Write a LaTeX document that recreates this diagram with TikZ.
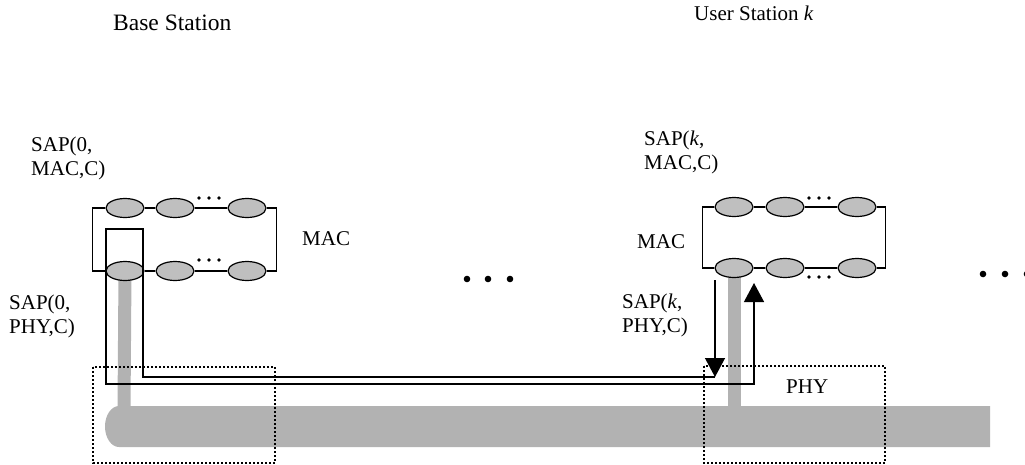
\documentclass[tikz,border=0pt]{standalone}
\usepackage{fontspec}
\setmainfont{Liberation Serif}
\usetikzlibrary{shapes.geometric,arrows.meta}
\pgfdeclarelayer{bg}
\pgfsetlayers{bg,main}
\begin{document}
\begin{tikzpicture}[x=1pt,y=-1pt,
  lw/.style={line width=1.3pt, line join=miter},
  sap/.style={ellipse, draw=black, line width=1.2pt, fill=black!25, minimum width=38pt, minimum height=19pt, inner sep=0pt},
  lbl/.style={font=\fontsize{21}{23.5}\selectfont, inner sep=0pt, anchor=base west, align=left},
  gbar/.style={draw=black!30, line width=13pt},
  dotbox/.style={draw=black, line width=1.5pt, dash pattern=on 2pt off 2pt},
  tip/.style={-{Triangle[width=20pt,length=19pt]}},
  sdot/.style={circle, fill=black, inner sep=0pt, minimum size=3.6pt},
  bdot/.style={circle, fill=black, inner sep=0pt, minimum size=6.6pt}]
\useasboundingbox (0,0) rectangle (1025,464);

% SAP ellipses
\node[sap] (b1) at (125,208) {};
\node[sap] (b2) at (175,208) {};
\node[sap] (b3) at (247,208) {};
\node[sap] (b4) at (125,271) {};
\node[sap] (b5) at (175,271) {};
\node[sap] (b6) at (247,271) {};
\node[sap] (u1) at (734,207) {};
\node[sap] (u2) at (785,207) {};
\node[sap] (u3) at (857,207) {};
\node[sap] (u4) at (734,268) {};
\node[sap] (u5) at (785,268) {};
\node[sap] (u6) at (857,268) {};

% MAC rings
\draw[lw] (b1) -- (b2); \draw[lw] (b2) -- (b3);
\draw[lw] (b4) -- (b5); \draw[lw] (b5) -- (b6);
\draw[lw] (b1.west) -- ++(-13,0) |- (b4.west);
\draw[lw] (b3.east) -- ++(10,0) |- (b6.east);
\draw[lw] (u1) -- (u2); \draw[lw] (u2) -- (u3);
\draw[lw] (u4) -- (u5); \draw[lw] (u5) -- (u6);
\draw[lw] (u1.west) -- ++(-12,0) |- (u4.west);
\draw[lw] (u3.east) -- ++(9,0) |- (u6.east);

% small dots
\foreach \x in {199,209,219} {
  \node[sdot] at (\x,198) {};
  \node[sdot] at (\x,260) {};
}
\foreach \x in {809,819,829} {
  \node[sdot] at (\x,198) {};
  \node[sdot] at (\x,277) {};
}

% loop coordinates
\coordinate (dnTop) at (715,280);
\coordinate (dnEnd) at (715,377);
\coordinate (loopR) at (143,229);
\coordinate (loopL) at (106,384);
\coordinate (upTip) at (754,283);

\draw[lw,tip] (dnTop) -- (dnEnd);
\draw[lw,tip] (dnEnd) -| (loopR) -| (loopL) -| (upTip);

% bus
\coordinate (busB) at (124,406);
\coordinate (busU) at (734,406);
\fill[black!30] (990,406) -- (119,406) arc[start angle=270, end angle=90, x radius=14, y radius=20.5] -- (990,447) -- cycle;
\begin{pgfonlayer}{bg}
\draw[gbar] (b4.center) -- (busB |- 0,410);
\draw[gbar] (u4.center) -- (busU |- 0,410);
\end{pgfonlayer}

% PHY boxes
\draw[dotbox] (93,367) rectangle (275,463);
\draw[dotbox] (704,366) rectangle (885,463);

% labels (anchored at the baseline of the last line)
\node[lbl, font=\fontsize{23.5}{26}\selectfont] (tBS) at (113,30) {Base Station};
\node[lbl] (tUS) at (694,20) {User Station \textit{k}};
\node[lbl] (tS0M) at (31,175) {SAP(0,\\MAC,C)};
\node[lbl] (tM0) at (302,245) {MAC};
\node[lbl] (tS0P) at (9,333) {SAP(0,\\PHY,C)};
\node[lbl] (tSkM) at (644,169) {SAP(\textit{k},\\MAC,C)};
\node[lbl] (tMk) at (637,248) {MAC};
\node[lbl] (tSkP) at (622,332) {SAP(\textit{k},\\PHY,C)};
\node[lbl] (tPHY) at (786,393) {PHY};

% ellipsis dots
\foreach \x in {467,488,510} \node[bdot] at (\x,279) {};
\foreach \x in {983,1005,1027} \node[bdot] at (\x,274) {};
\end{tikzpicture}
\end{document}
